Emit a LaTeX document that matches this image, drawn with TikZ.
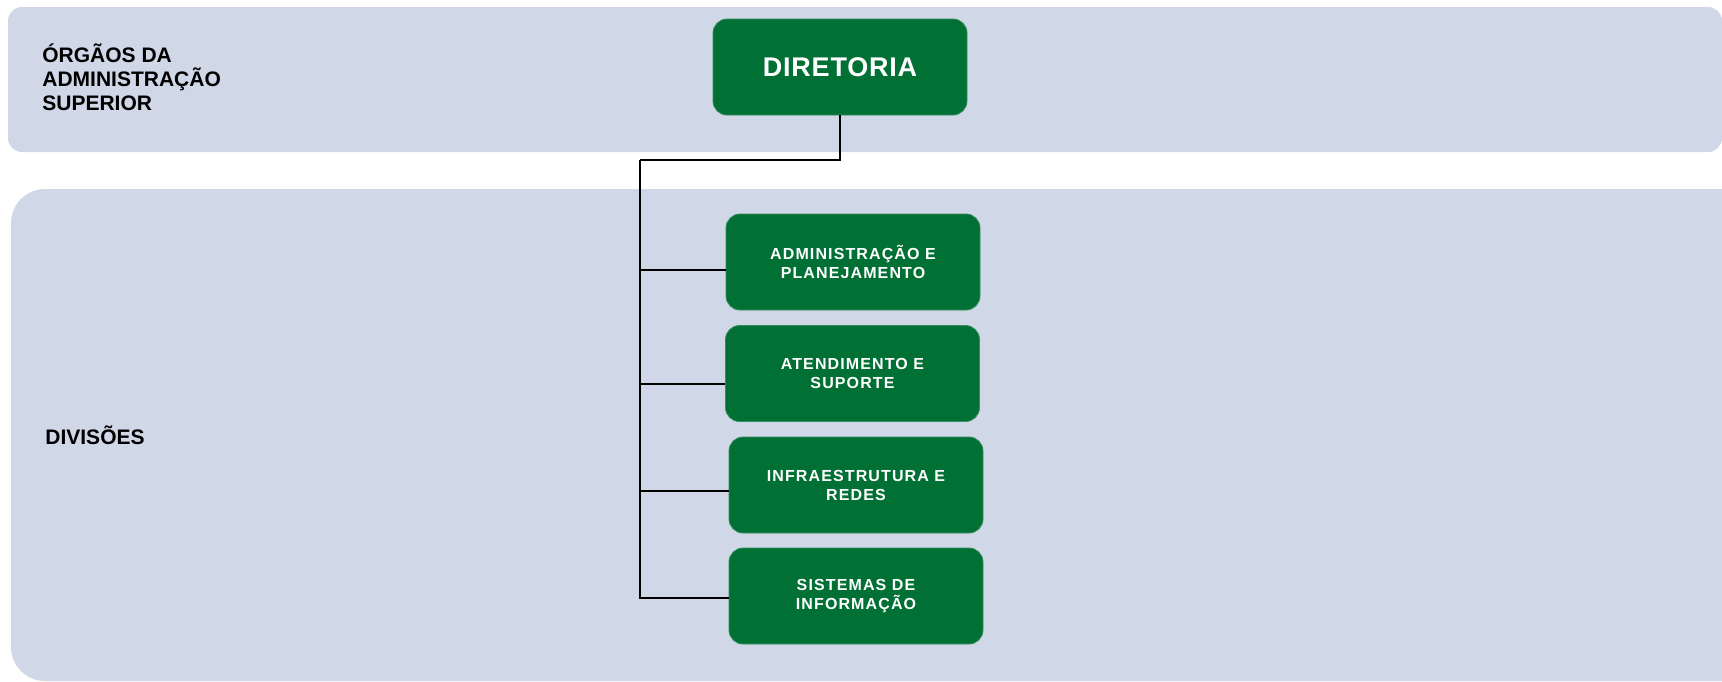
\documentclass[tikz,border=0pt]{standalone}
\usepackage{fontspec}
\setmainfont{Liberation Sans}
\newfontfamily\boxfont[LetterSpace=7]{Liberation Sans}
\newfontfamily\headfont[LetterSpace=3]{Liberation Sans}
\usepackage{tikz}
\usetikzlibrary{positioning}

\definecolor{bandblue}{RGB}{208,215,230}
\definecolor{unitgreen}{RGB}{0,112,52}

\begin{document}
\begin{tikzpicture}[x=0.5pt, y=-0.5pt,
    unit/.style={fill=unitgreen, draw=unitgreen!80!white, rounded corners=7pt,
        minimum width=127pt, minimum height=48pt, text=white, align=center,
        font=\boxfont\fontsize{8}{9.5}\selectfont\bfseries},
    rowlabel/.style={anchor=base west, align=left, inner sep=0pt,
        font=\fontsize{10.5}{11.8}\selectfont\bfseries}]
    \useasboundingbox (0,0) rectangle (1722,681);

    % Drawing the two bands
    \fill[bandblue, rounded corners=7pt] (8,7) rectangle (1722,152);
    \fill[bandblue, rounded corners=17pt] (11,189) rectangle (1780,681);

    % Band labels (base = last line)
    \node[rowlabel] (lblsup) at (42,110) {ÓRGÃOS DA\\ADMINISTRAÇÃO\\SUPERIOR};
    \node[rowlabel] (lbldiv) at (45,444) {DIVISÕES};

    % Top unit
    \node[unit, font=\headfont\fontsize{13.5}{16}\selectfont\bfseries] (dir) at (840,67) {DIRETORIA};

    % Divisions
    \node[unit] (adm) at (853,262) {ADMINISTRAÇÃO E\\PLANEJAMENTO};
    \node[unit] (ate) at (852.5,373.5) {ATENDIMENTO E\\SUPORTE};
    \node[unit] (inf) at (856,485) {INFRAESTRUTURA E\\REDES};
    \node[unit] (sis) at (856,596) {SISTEMAS DE\\INFORMAÇÃO};

    % Connectors
    \coordinate (spine) at (640,160);
    \draw[line width=1pt] (dir.south) |- (spine);
    \draw[line width=1pt] (spine) |- ([yshift=-4pt]adm.west);
    \draw[line width=1pt] (spine) |- ([yshift=-5pt]ate.west);
    \draw[line width=1pt] (spine) |- ([yshift=-3pt]inf.west);
    \draw[line width=1pt] (spine) |- ([yshift=-1pt]sis.west);
\end{tikzpicture}
\end{document}
